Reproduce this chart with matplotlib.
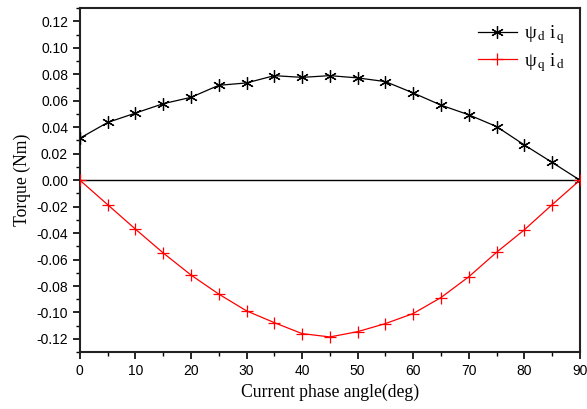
import matplotlib
matplotlib.use("Agg")
import matplotlib.pyplot as plt
from matplotlib.ticker import MultipleLocator, FormatStrFormatter

# current phase angle (deg) and torque components (Nm)
angle = [0, 5, 10, 15, 20, 25, 30, 35, 40, 45, 50, 55, 60, 65, 70, 75, 80, 85, 90]
psi_d_iq = [0.0317, 0.0436, 0.0507, 0.0578, 0.0626, 0.0717, 0.0735, 0.0790, 0.0777,
            0.0790, 0.0773, 0.0745, 0.0659, 0.0567, 0.0494, 0.0405, 0.0266, 0.0134, 0.0]
psi_q_id = [0.0, -0.0185, -0.0370, -0.0550, -0.0717, -0.0861, -0.0988, -0.1077, -0.1160,
            -0.1185, -0.1145, -0.1084, -0.1008, -0.0887, -0.0730, -0.0545, -0.0375, -0.0185, 0.0]

plt.rcParams["mathtext.fontset"] = "stix"

fig = plt.figure(figsize=(5.87, 4.09), dpi=100)
ax = fig.add_axes([0.136, 0.139, 0.852, 0.841])

ax.axhline(0, color="black", lw=1.0, zorder=1)
ax.plot(angle, psi_d_iq, color="black", lw=0.9, marker=(6, 2, 0), ms=9, mew=0.9,
        label="ψ$_{\\,\\mathrm{d}}$ i$_{\\,\\mathrm{q}}$", zorder=3)
ax.plot(angle, psi_q_id, color="red", lw=0.9, marker="+", ms=8, mew=0.9,
        label="ψ$_{\\,\\mathrm{q}}$ i$_{\\,\\mathrm{d}}$", zorder=3)

ax.set_xlim(0, 90)
ax.set_ylim(-0.13, 0.13)
ax.xaxis.set_major_locator(MultipleLocator(10))
ax.xaxis.set_minor_locator(MultipleLocator(5))
ax.yaxis.set_major_locator(MultipleLocator(0.02))
ax.yaxis.set_minor_locator(MultipleLocator(0.01))
ax.yaxis.set_major_formatter(FormatStrFormatter("%.2f"))

ax.tick_params(which="major", direction="out", length=5, width=1.2,
               labelsize=10, top=False, right=False)
ax.tick_params(which="minor", direction="out", length=3, width=1.0, top=False, right=False)
for lab in ax.get_xticklabels() + ax.get_yticklabels():
    lab.set_fontfamily("Liberation Sans")
for sp in ax.spines.values():
    sp.set_linewidth(1.5)
    sp.set_color("#222222")

ax.set_xlabel("Current phase angle(deg)", fontfamily="Liberation Serif", fontsize=12.7)
ax.set_ylabel("Torque (Nm)", fontfamily="Liberation Serif", fontsize=12.7)

leg = ax.legend(loc="upper right", frameon=False, handlelength=2.1, handletextpad=0.35,
                prop={"family": "Liberation Serif", "size": 13.5},
                borderaxespad=0.4, labelspacing=0.25)

fig.savefig("out.png", dpi=100)
